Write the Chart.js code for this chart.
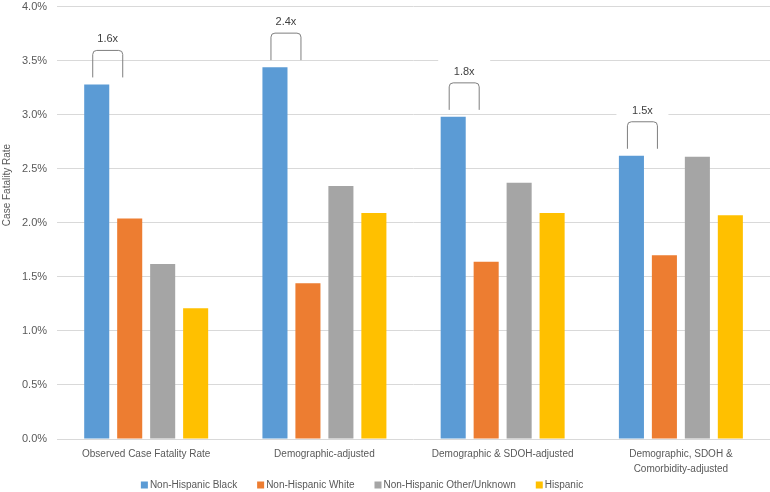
<!DOCTYPE html>
<html>
<head>
<meta charset="utf-8">
<script src="https://cdn.jsdelivr.net/npm/chart.js@4.4.1/dist/chart.umd.min.js"></script>
<style>
  html, body { margin: 0; padding: 0; background: #ffffff; }
  #wrap { width: 770px; height: 492px; }
</style>
</head>
<body>
<div id="wrap"><canvas id="c" width="770" height="492"></canvas></div>
<script>
// ---- data ----
const categories = [
  "Observed Case Fatality Rate",
  "Demographic-adjusted",
  "Demographic & SDOH-adjusted",
  ["Demographic, SDOH &", "Comorbidity-adjusted"]
];
const seriesNames = ["Non-Hispanic Black", "Non-Hispanic White", "Non-Hispanic Other/Unknown", "Hispanic"];
const nhBlack = [3.28, 3.44, 2.98, 2.62];
const nhWhite = [2.04, 1.44, 1.64, 1.70];
const nhOther = [1.62, 2.34, 2.37, 2.61];
const hispanic = [1.21, 2.09, 2.09, 2.07];
const ratioLabels = ["1.6x", "2.4x", "1.8x", "1.5x"];
const yTicks = [0, 0.5, 1.0, 1.5, 2.0, 2.5, 3.0, 3.5, 4.0];

const colors = ["#5B9BD5", "#ED7D31", "#A5A5A5", "#FFC000"];
const FONT = "'Liberation Sans', Arial, sans-serif";
const TEXT = "#595959";

const bracketPlugin = {
  id: "brackets",
  afterDatasetsDraw(chart) {
    const ctx = chart.ctx;
    const metaB = chart.getDatasetMeta(0);
    ctx.save();
    metaB.data.forEach((bar, i) => {
      const l = bar.x - 4;
      const r = bar.x + 26;
      const bottom = bar.y - 7;
      const top = bottom - 27;
      const cx = (l + r) / 2;
      const ly = top - 11;
      // label background
      ctx.fillStyle = "#ffffff";
      ctx.fillRect(cx - 26, ly - 12, 52, 24);
      // bracket
      const rad = 4;
      ctx.strokeStyle = "#7f7f7f";
      ctx.lineWidth = 1;
      ctx.beginPath();
      ctx.moveTo(l, bottom);
      ctx.lineTo(l, top + rad);
      ctx.quadraticCurveTo(l, top, l + rad, top);
      ctx.lineTo(r - rad, top);
      ctx.quadraticCurveTo(r, top, r, top + rad);
      ctx.lineTo(r, bottom);
      ctx.stroke();
      // label
      ctx.fillStyle = "#404040";
      ctx.font = "11px " + FONT;
      ctx.textAlign = "center";
      ctx.textBaseline = "middle";
      ctx.fillText(ratioLabels[i], cx, ly);
    });
    ctx.restore();
  }
};

const extrasPlugin = {
  id: "extras",
  afterDraw(chart) {
    const ctx = chart.ctx;
    ctx.save();
    // y axis title
    ctx.fillStyle = TEXT;
    ctx.font = "10px " + FONT;
    ctx.translate(7, 185);
    ctx.rotate(-Math.PI / 2);
    ctx.textAlign = "center";
    ctx.textBaseline = "middle";
    ctx.fillText("Case Fatality Rate", 0, 0);
    ctx.restore();

    // legend
    ctx.save();
    ctx.font = "10px " + FONT;
    ctx.textBaseline = "middle";
    ctx.textAlign = "left";
    const ds = chart.data.datasets;
    const box = 7, gap = 2, spacing = 20;
    let total = 0;
    const widths = ds.map(d => ctx.measureText(d.label).width);
    widths.forEach((w, i) => { total += box + gap + w + (i < widths.length - 1 ? spacing : 0); });
    let x = 362 - total / 2;
    const y = 485;
    ds.forEach((d, i) => {
      ctx.fillStyle = d.backgroundColor;
      ctx.fillRect(x, y - 3.5, box, box);
      ctx.fillStyle = TEXT;
      ctx.fillText(d.label, x + box + gap, y);
      x += box + gap + widths[i] + spacing;
    });
    ctx.restore();
  }
};

const seriesData = [nhBlack, nhWhite, nhOther, hispanic];

new Chart(document.getElementById("c"), {
  type: "bar",
  data: {
    labels: categories,
    datasets: seriesNames.map((name, i) => ({
      label: name,
      data: seriesData[i],
      backgroundColor: colors[i],
      borderWidth: 0,
      categoryPercentage: 0.74,
      barPercentage: 0.76
    }))
  },
  options: {
    responsive: false,
    animation: false,
    devicePixelRatio: 1,
    layout: { padding: { left: 22, right: 0, top: 0, bottom: 7 } },
    plugins: {
      legend: { display: false },
      tooltip: { enabled: false },
      title: { display: false }
    },
    scales: {
      x: {
        grid: { display: false, drawTicks: false },
        border: { display: false },
        ticks: {
          color: TEXT,
          font: { family: FONT, size: 10, lineHeight: 1.5 },
          padding: 8,
          maxRotation: 0,
          autoSkip: false
        }
      },
      y: {
        min: 0,
        max: 4,
        afterBuildTicks(axis) { axis.ticks = yTicks.map(v => ({ value: v })); },
        grid: { color: "#d9d9d9", drawTicks: true, tickLength: 10, tickColor: "rgba(0,0,0,0)" },
        border: { display: false },
        ticks: {
          color: TEXT,
          font: { family: FONT, size: 11 },
          padding: 0,
          callback: v => v.toFixed(1) + "%"
        }
      }
    }
  },
  plugins: [bracketPlugin, extrasPlugin]
});
</script>
</body>
</html>
